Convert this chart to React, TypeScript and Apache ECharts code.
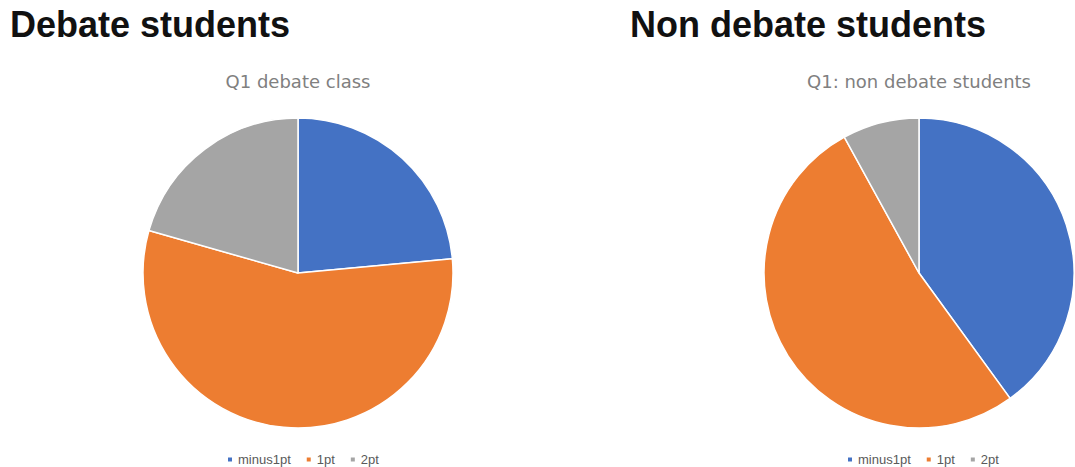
import React, { useEffect, useRef } from "react";
import * as echarts from "echarts";

const categories = ["minus1pt", "1pt", "2pt"];
const debateValues = [8, 19, 7];
const nonDebateValues = [10, 13, 2];
const colors = ["#4472C4", "#ED7D31", "#A5A5A5"];

const mainTitles = ["Debate students", "Non debate students"];
const chartTitles = ["Q1 debate class", "Q1: non debate students"];

export default function App() {
  const ref = useRef<HTMLDivElement>(null);
  useEffect(() => {
    document.body.style.margin = "0";
    const chart = echarts.init(ref.current!, null, { renderer: "svg" });
    const mkData = (vals: number[]) =>
      categories.map((name, i) => ({ name, value: vals[i], itemStyle: { color: colors[i] } }));
    const pieBase = {
      type: "pie",
      radius: 155,
      startAngle: 90,
      clockwise: true,
      label: { show: false },
      labelLine: { show: false },
      emphasis: { disabled: true },
      itemStyle: { borderColor: "#ffffff", borderWidth: 1.5 },
    };
    const legendBase = {
      data: categories,
      icon: "rect",
      itemWidth: 6,
      itemHeight: 6,
      itemGap: 14,
      padding: 0,
      top: 453,
      textStyle: { fontSize: 13, color: "#595959", fontFamily: "Liberation Sans" },
    };
    chart.setOption({
      animation: false,
      color: colors,
      legend: [
        { ...legendBase, left: 226 },
        { ...legendBase, left: 846 },
      ],
      graphic: [
        {
          type: "text",
          x: 10,
          y: 24,
          style: {
            text: mainTitles[0],
            font: "bold 36px 'Liberation Sans'",
            fill: "#111111",
            align: "left",
            verticalAlign: "middle",
          },
        },
        {
          type: "text",
          x: 630,
          y: 24,
          style: {
            text: mainTitles[1],
            font: "bold 36px 'Liberation Sans'",
            fill: "#111111",
            align: "left",
            verticalAlign: "middle",
          },
        },
        {
          type: "text",
          x: 298,
          y: 81,
          style: {
            text: chartTitles[0],
            font: "18px 'DejaVu Sans'",
            fill: "#808080",
            align: "center",
            verticalAlign: "middle",
          },
        },
        {
          type: "text",
          x: 919,
          y: 81,
          style: {
            text: chartTitles[1],
            font: "18px 'DejaVu Sans'",
            fill: "#808080",
            align: "center",
            verticalAlign: "middle",
          },
        },
      ],
      series: [
        { ...pieBase, name: chartTitles[0], center: [298, 273], data: mkData(debateValues) },
        { ...pieBase, name: chartTitles[1], center: [919, 273], data: mkData(nonDebateValues) },
      ],
    });
    return () => chart.dispose();
  }, []);
  return (
    <div
      ref={ref}
      style={{ position: "fixed", left: 0, top: 0, width: 1075, height: 467, background: "#ffffff" }}
    />
  );
}
